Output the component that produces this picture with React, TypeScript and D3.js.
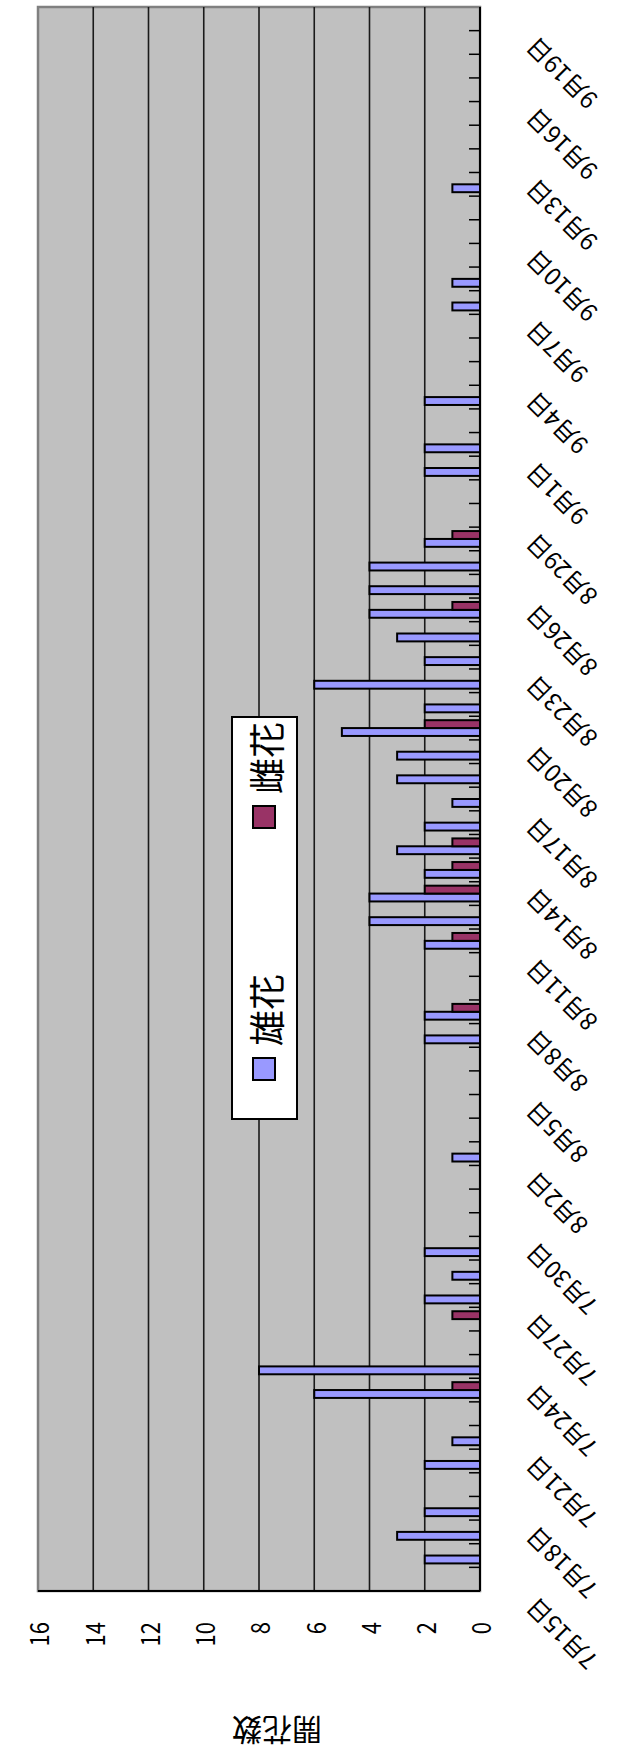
import { useEffect, useRef } from 'react';
import * as d3 from 'd3';

// categories: one per day, 7/15 .. 9/19
const dates = [
  '7月15日', '7月16日', '7月17日', '7月18日', '7月19日', '7月20日', '7月21日', '7月22日', '7月23日', '7月24日',
  '7月25日', '7月26日', '7月27日', '7月28日', '7月29日', '7月30日', '7月31日', '8月1日', '8月2日', '8月3日',
  '8月4日', '8月5日', '8月6日', '8月7日', '8月8日', '8月9日', '8月10日', '8月11日', '8月12日', '8月13日',
  '8月14日', '8月15日', '8月16日', '8月17日', '8月18日', '8月19日', '8月20日', '8月21日', '8月22日', '8月23日',
  '8月24日', '8月25日', '8月26日', '8月27日', '8月28日', '8月29日', '8月30日', '8月31日', '9月1日', '9月2日',
  '9月3日', '9月4日', '9月5日', '9月6日', '9月7日', '9月8日', '9月9日', '9月10日', '9月11日', '9月12日',
  '9月13日', '9月14日', '9月15日', '9月16日', '9月17日', '9月18日', '9月19日',
];

// 雄花
const male = [
  0, 2, 3, 2, 0, 2, 1, 0, 6, 8,
  0, 0, 2, 1, 2, 0, 0, 0, 1, 0,
  0, 0, 0, 2, 2, 0, 0, 2, 4, 4,
  2, 3, 2, 1, 3, 3, 5, 2, 6, 2,
  3, 4, 4, 4, 2, 0, 0, 2, 2, 0,
  2, 0, 0, 0, 1, 1, 0, 0, 0, 1,
  0, 0, 0, 0, 0, 0, 0,
];

// 雌花
const female = [
  0, 0, 0, 0, 0, 0, 0, 0, 1, 0,
  0, 1, 0, 0, 0, 0, 0, 0, 0, 0,
  0, 0, 0, 0, 1, 0, 0, 1, 0, 2,
  1, 1, 0, 0, 0, 0, 2, 0, 0, 0,
  0, 1, 0, 0, 1, 0, 0, 0, 0, 0,
  0, 0, 0, 0, 0, 0, 0, 0, 0, 0,
  0, 0, 0, 0, 0, 0, 0,
];

const seriesNames = ['雄花', '雌花'];
const seriesColors = ['#9999FF', '#993366'];
const valueTicks = [0, 2, 4, 6, 8, 10, 12, 14, 16];
const axisTitle = '開花数';

const FONT = '"Noto Sans CJK JP", "Liberation Sans", sans-serif';

export default function App() {
  const svgRef = useRef<SVGSVGElement>(null);

  useEffect(() => {
    if (!svgRef.current) return;
    const W = 619;
    const H = 1754;

    const svg = d3.select(svgRef.current);
    svg.selectAll('*').remove();
    svg.attr('width', W).attr('height', H);

    svg.append('rect').attr('width', W).attr('height', H).attr('fill', '#ffffff');

    // the chart is laid out landscape (1754 wide) and then turned a quarter turn
    const g = svg.append('g').attr('transform', `translate(0,${H}) rotate(-90)`);

    const left = 163;
    const right = 1747;
    const top = 38;
    const bottom = 480;

    const x = d3.scaleBand<string>().domain(dates).range([left, right]);
    const xs = d3.scaleBand<string>().domain(seriesNames).range([0, x.bandwidth()]).paddingOuter(0.5);
    const y = d3.scaleLinear().domain([0, 16]).range([bottom, top]);

    // plot area
    g.append('rect')
      .attr('x', left)
      .attr('y', top)
      .attr('width', right - left)
      .attr('height', bottom - top)
      .attr('fill', '#C0C0C0')
      .attr('stroke', '#808080')
      .attr('stroke-width', 2.5);

    // gridlines
    valueTicks.slice(1, -1).forEach(t => {
      g.append('line')
        .attr('x1', left)
        .attr('x2', right)
        .attr('y1', y(t))
        .attr('y2', y(t))
        .attr('stroke', '#1a1a1a')
        .attr('stroke-width', 1.6);
    });

    // bars
    const series = [male, female];
    series.forEach((vals, si) => {
      vals.forEach((v, i) => {
        if (!v) return;
        g.append('rect')
          .attr('x', (x(dates[i]) ?? 0) + (xs(seriesNames[si]) ?? 0))
          .attr('y', y(v))
          .attr('width', xs.bandwidth())
          .attr('height', bottom - y(v))
          .attr('fill', seriesColors[si])
          .attr('stroke', '#000')
          .attr('stroke-width', 2);
      });
    });

    // axes
    g.append('line')
      .attr('x1', left).attr('x2', left)
      .attr('y1', top).attr('y2', bottom)
      .attr('stroke', '#000').attr('stroke-width', 2);
    g.append('line')
      .attr('x1', left).attr('x2', right)
      .attr('y1', bottom).attr('y2', bottom)
      .attr('stroke', '#000').attr('stroke-width', 2);

    // category ticks (inside)
    dates.forEach(d => {
      const bx = x(d) ?? 0;
      g.append('line')
        .attr('x1', bx).attr('x2', bx)
        .attr('y1', bottom).attr('y2', bottom - 11)
        .attr('stroke', '#000').attr('stroke-width', 1.5);
    });

    // value labels
    valueTicks.forEach(t => {
      g.append('text')
        .attr('transform', `translate(132,${y(t)}) scale(1,1.2)`)
        .attr('text-anchor', 'end')
        .attr('dominant-baseline', 'central')
        .attr('font-family', FONT)
        .attr('font-size', 22)
        .attr('fill', '#000')
        .text(t);
    });

    // date labels, every third day
    dates.forEach((d, i) => {
      if (i % 3 !== 0) return;
      const cx = (x(d) ?? 0) + x.bandwidth() / 2;
      g.append('text')
        .attr('transform', `translate(${cx - 17},537) rotate(-45)`)
        .attr('text-anchor', 'end')
        .attr('font-family', FONT)
        .attr('font-size', 24)
        .attr('fill', '#000')
        .text(d);
    });

    // axis title
    g.append('text')
      .attr('transform', `translate(22,277) rotate(-90)`)
      .attr('text-anchor', 'middle')
      .attr('dominant-baseline', 'central')
      .attr('font-family', FONT)
      .attr('font-size', 30)
      .attr('fill', '#000')
      .text(axisTitle);

    // legend
    const lg = g.append('g').attr('transform', 'translate(635,232)');
    lg.append('rect')
      .attr('width', 402)
      .attr('height', 65)
      .attr('fill', '#fff')
      .attr('stroke', '#000')
      .attr('stroke-width', 2);
    const itemX = [39, 291];
    seriesNames.forEach((name, si) => {
      lg.append('rect')
        .attr('x', itemX[si])
        .attr('y', 21)
        .attr('width', 22)
        .attr('height', 22)
        .attr('fill', seriesColors[si])
        .attr('stroke', '#000')
        .attr('stroke-width', 2);
      lg.append('text')
        .attr('x', itemX[si] + 34)
        .attr('y', 33)
        .attr('dominant-baseline', 'central')
        .attr('font-family', FONT)
        .attr('font-size', 36)
        .attr('fill', '#000')
        .text(name);
    });
  }, []);

  return (
    <div style={{ position: 'absolute', left: 0, top: 0 }}>
      <svg ref={svgRef} style={{ display: 'block' }}></svg>
    </div>
  );
}
